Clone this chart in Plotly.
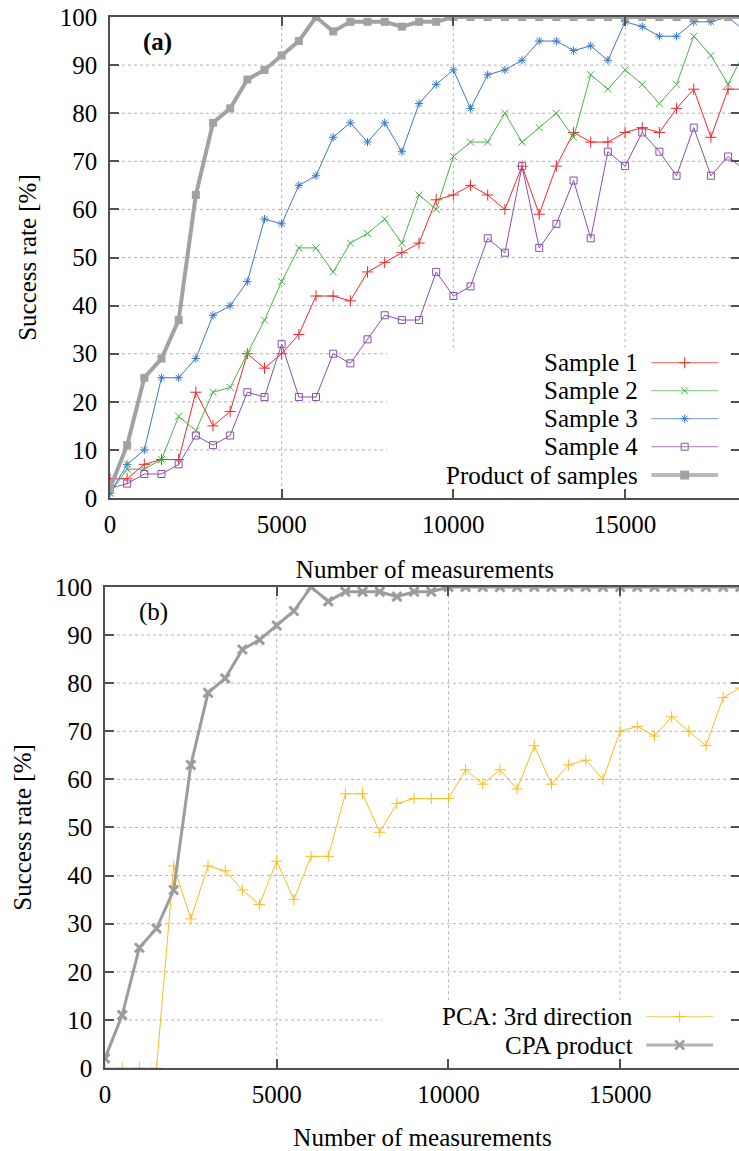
import plotly.graph_objects as go

# ---------------- data ----------------
measurements = [0, 500, 1000, 1500, 2000, 2500, 3000, 3500, 4000, 4500,
                5000, 5500, 6000, 6500, 7000, 7500, 8000, 8500, 9000, 9500,
                10000, 10500, 11000, 11500, 12000, 12500, 13000, 13500, 14000, 14500,
                15000, 15500, 16000, 16500, 17000, 17500, 18000, 18500]

sample1 = [4, 4, 7, 8, 8, 22, 15, 18, 30, 27, 30, 34, 42, 42, 41, 47, 49, 51, 53, 62,
           63, 65, 63, 60, 69, 59, 69, 76, 74, 74, 76, 77, 76, 81, 85, 75, 85, 85]
sample2 = [1, 6, 6, 8, 17, 14, 22, 23, 30, 37, 45, 52, 52, 47, 53, 55, 58, 53, 63, 60,
           71, 74, 74, 80, 74, 77, 80, 75, 88, 85, 89, 86, 82, 86, 96, 92, 86, 93]
sample3 = [1, 7, 10, 25, 25, 29, 38, 40, 45, 58, 57, 65, 67, 75, 78, 74, 78, 72, 82, 86,
           89, 81, 88, 89, 91, 95, 95, 93, 94, 91, 99, 98, 96, 96, 99, 99, 100, 97]
sample4 = [2, 3, 5, 5, 7, 13, 11, 13, 22, 21, 32, 21, 21, 30, 28, 33, 38, 37, 37, 47,
           42, 44, 54, 51, 69, 52, 57, 66, 54, 72, 69, 76, 72, 67, 77, 67, 71, 68]
product = [2, 11, 25, 29, 37, 63, 78, 81, 87, 89, 92, 95, 100, 97, 99, 99, 99, 98, 99, 99,
           100, 100, 100, 100, 100, 100, 100, 100, 100, 100, 100, 100, 100, 100, 100, 100, 100, 100]
pca3 = [0, 0, 0, 0, 42, 31, 42, 41, 37, 34, 43, 35, 44, 44, 57, 57, 49, 55, 56, 56,
        56, 62, 59, 62, 58, 67, 59, 63, 64, 60, 70, 71, 69, 73, 70, 67, 77, 79]
cpa_product = product

y_ticks = [0, 10, 20, 30, 40, 50, 60, 70, 80, 90, 100]
x_ticks = [0, 5000, 10000, 15000]
x_tick_labels = ["0", "5000", "10000", "15000"]

top_series = [
    ("Sample 1", sample1, "#ee2a2a", "cross-thin", 1.0, 8),
    ("Sample 2", sample2, "#4cb04c", "x-thin", 1.0, 7),
    ("Sample 3", sample3, "#3a78c8", "asterisk", 1.0, 7),
    ("Sample 4", sample4, "#8a50a8", "square-open", 1.0, 7),
]
bottom_series = [
    ("PCA: 3rd direction", pca3, "#fbbc1e", "cross-thin", 1.0, 8),
]

FONT = "Liberation Serif, serif"
GRID = "#b4b4b4"
AXC = "#505050"
TOP_XMAX = 18347
BOT_XMAX = 18490

fig = go.Figure()

# ---- top panel traces ----
for name, vals, col, sym, lw, ms in top_series:
    fig.add_trace(go.Scatter(
        x=measurements, y=vals, mode="lines+markers", name=name,
        line=dict(color=col, width=lw),
        marker=dict(symbol=sym, size=ms, color=col, line=dict(color=col, width=1)),
        xaxis="x", yaxis="y", showlegend=False))
fig.add_trace(go.Scatter(
    x=measurements, y=product, mode="lines+markers", name="Product of samples",
    line=dict(color="#a2a2a2", width=4),
    marker=dict(symbol="square", size=8, color="#a2a2a2"),
    xaxis="x", yaxis="y", showlegend=False))

# ---- bottom panel traces ----
for name, vals, col, sym, lw, ms in bottom_series:
    fig.add_trace(go.Scatter(
        x=measurements, y=vals, mode="lines+markers", name=name,
        line=dict(color=col, width=lw),
        marker=dict(symbol=sym, size=ms, color=col, line=dict(color=col, width=1)),
        xaxis="x2", yaxis="y2", showlegend=False))
fig.add_trace(go.Scatter(
    x=measurements, y=cpa_product, mode="lines+markers", name="CPA product",
    line=dict(color="#9c9c9c", width=3),
    marker=dict(symbol="x-thin", size=9, color="#9c9c9c", line=dict(color="#9c9c9c", width=3)),
    xaxis="x2", yaxis="y2", showlegend=False))

# ---- custom legends (gnuplot style: text left, key right) ----
top_legend = top_series + [("Product of samples", None, "#a2a2a2", "square", 4, 9)]
top_rows = [0.2813, 0.2231, 0.1649, 0.1067, 0.0478]
bot_legend = bottom_series + [("CPA product", None, "#9c9c9c", "x-thin", 3, 9)]
bot_rows = [0.1067, 0.0478]

annotations = []

def legend_key(xa, ya, xmax, x0f, x1f, xmf, yr, col, sym, lw, ms, mlw):
    fig.add_trace(go.Scatter(
        x=[x0f * xmax, x1f * xmax], y=[yr * 100, yr * 100], mode="lines",
        line=dict(color=col, width=lw), opacity=0.75,
        xaxis=xa, yaxis=ya, showlegend=False, hoverinfo="skip"))
    fig.add_trace(go.Scatter(
        x=[xmf * xmax], y=[yr * 100], mode="markers",
        marker=dict(symbol=sym, size=ms, color=col, line=dict(color=col, width=mlw)),
        xaxis=xa, yaxis=ya, showlegend=False, hoverinfo="skip"))

for (name, _, col, sym, lw, ms), yr in zip(top_legend, top_rows):
    legend_key("x", "y", TOP_XMAX, 0.8592, 0.9652, 0.9122, yr, col, sym, lw, ms,
               1 if lw < 2 else 0)
    annotations.append(dict(text=name, xref="x domain", yref="y domain", x=0.8418, y=yr,
                            xanchor="right", yanchor="middle", showarrow=False,
                            font=dict(family=FONT, size=25, color="black")))
for (name, _, col, sym, lw, ms), yr in zip(bot_legend, bot_rows):
    legend_key("x2", "y2", BOT_XMAX, 0.8524, 0.9576, 0.905, yr, col, sym, lw, ms,
               1 if lw < 2 else 2.5)
    annotations.append(dict(text=name, xref="x2 domain", yref="y2 domain", x=0.8347, y=yr,
                            xanchor="right", yanchor="middle", showarrow=False,
                            font=dict(family=FONT, size=25, color="black")))

annotations.append(dict(text="<b>(a)</b>", xref="x domain", yref="y domain", x=0.0759, y=0.948,
                        xanchor="center", yanchor="middle", showarrow=False,
                        font=dict(family=FONT, size=25, color="black")))
annotations.append(dict(text="(b)", xref="x2 domain", yref="y2 domain", x=0.0769, y=0.948,
                        xanchor="center", yanchor="middle", showarrow=False,
                        font=dict(family=FONT, size=25, color="black")))

# ---- dotted grid drawn as shapes, interrupted by the (opaque) legend box ----
shapes = []
def grid(xref, yref, xmax, box_x0, box_y1):
    for yv in y_ticks[1:-1]:
        x_end = box_x0 if yv < box_y1 else xmax
        shapes.append(dict(type="line", xref=xref, yref=yref, x0=0, x1=x_end, y0=yv, y1=yv,
                           line=dict(color=GRID, width=1, dash="dot"), layer="below"))
    for xv in x_ticks[1:]:
        y_start = box_y1 if xv > box_x0 else 0
        shapes.append(dict(type="line", xref=xref, yref=yref, x0=xv, x1=xv, y0=y_start, y1=100,
                           line=dict(color=GRID, width=1, dash="dot"), layer="below"))

grid("x", "y", TOP_XMAX, 0.4399 * TOP_XMAX, 31.2)
grid("x2", "y2", BOT_XMAX, 0.4364 * BOT_XMAX, 14.1)

tickfont = dict(family=FONT, size=25, color="black")
titlefont = dict(family=FONT, size=25, color="black")

def xax(domain, anchor, rng):
    return dict(domain=domain, anchor=anchor, range=rng, tickvals=x_ticks, ticktext=x_tick_labels,
                ticks="inside", ticklen=9, tickwidth=1.5, tickcolor=AXC,
                showline=True, linecolor=AXC, linewidth=1.5, mirror="ticks",
                showgrid=False, zeroline=False, tickfont=tickfont, ticklabelstandoff=3,
                title=dict(text="Number of measurements", font=titlefont, standoff=24))

def yax(domain, anchor):
    return dict(domain=domain, anchor=anchor, range=[0, 100], tickvals=y_ticks,
                ticks="inside", ticklen=9, tickwidth=1.5, tickcolor=AXC,
                showline=True, linecolor=AXC, linewidth=1.5, mirror="ticks",
                showgrid=False, zeroline=False, tickfont=tickfont, ticklabelstandoff=6,
                title=dict(text="Success rate [%]", font=titlefont, standoff=16))

fig.update_layout(
    width=742, height=1151,
    margin=dict(l=105, r=0, t=17, b=83),
    paper_bgcolor="white", plot_bgcolor="white",
    font=dict(family=FONT, color="black"),
    xaxis=xax([5 / 637, 1.0], "y", [0, TOP_XMAX]),
    yaxis=yax([0.5423, 1.0], "x"),
    xaxis2=xax([0.0, 1.0], "y2", [0, BOT_XMAX]),
    yaxis2=yax([0.0, 0.4577], "x2"),
    annotations=annotations,
    shapes=shapes,
    showlegend=False,
)

fig.write_html(
    "out.html",
    config={"displayModeBar": False},
    post_script="document.body.style.margin='0px';document.body.style.overflow='hidden';",
)
